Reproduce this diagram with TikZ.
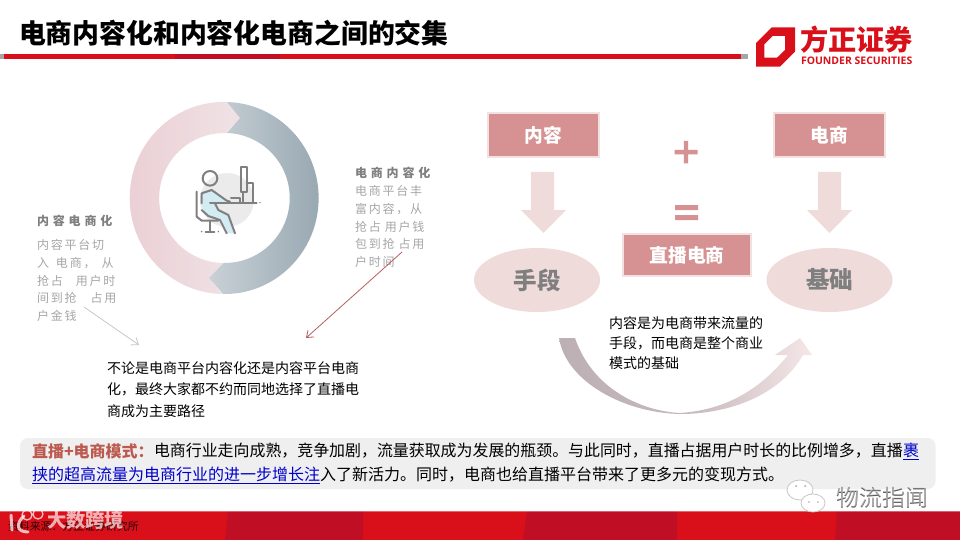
\documentclass[tikz,border=0pt]{standalone}
\usepackage{fontspec}
\usetikzlibrary{arrows.meta,shapes.geometric}
\setmainfont{Noto Sans CJK SC}
\newfontfamily\lblfont[LetterSpace=15]{Noto Sans CJK SC}
\newfontfamily\headfont[LetterSpace=32]{Noto Sans CJK SC}
\newfontfamily\latinbold{Open Sans}
\definecolor{brandred}{HTML}{D9101A}
\definecolor{branddark}{HTML}{C00F24}
\definecolor{rosebox}{HTML}{D69292}
\definecolor{roseedge}{HTML}{F3E0E0}
\definecolor{roselight}{HTML}{F0DBDB}
\definecolor{headgrey}{HTML}{7F7F7F}
\definecolor{bodygrey}{HTML}{A6A6A6}
\definecolor{panelgrey}{HTML}{EFEFEF}
\definecolor{modered}{HTML}{BC5A50}
\definecolor{linkblue}{HTML}{0000CC}
\definecolor{iconline}{HTML}{808080}
\definecolor{iconblue}{HTML}{D3EBF3}
\definecolor{ringpinkL}{HTML}{EBD0D5}
\definecolor{ringpinkM}{HTML}{EDD9DD}
\definecolor{ringpinkR}{HTML}{F0E2E5}
\definecolor{ringgreyL}{HTML}{C9D1D6}
\definecolor{ringgreyR}{HTML}{98A8B2}
\definecolor{curveL}{HTML}{BDB0B4}
\definecolor{curveM}{HTML}{C6B8BB}
\definecolor{curveR}{HTML}{F5E6E7}
\definecolor{pointred}{HTML}{B85C60}
\tikzset{
  txt/.style={anchor=west,inner sep=0pt,outer sep=0pt},
  rosebx/.style={fill=rosebox,draw=roseedge,line width=1.2pt,inner sep=0pt,text=white,font=\fontsize{18.7}{20}\selectfont\bfseries},
  roseell/.style={ellipse,fill=roselight,inner sep=0pt,text=headgrey,font=\fontsize{23.5}{25}\selectfont\bfseries,minimum width=126pt,minimum height=64pt},
  downarrow/.style={fill=roselight},
  lbltxt/.style={txt,text=bodygrey,font=\fontsize{12}{14}\lblfont},
  headtxt/.style={txt,text=headgrey,font=\fontsize{12}{14}\headfont\bfseries},
  blacktxt/.style={txt,text=black,font=\fontsize{14}{16}\selectfont},
  icon/.style={draw=iconline,line width=2pt,line cap=round,line join=round},
  pointer/.style={-{Straight Barb[length=6pt,width=9pt]},line width=.8pt},
}
\begin{document}
\begin{tikzpicture}[x=1pt,y=-1pt]
\useasboundingbox (0,0) rectangle (960,540);
\fill[white] (0,0) rectangle (960,540);
% title
\node[txt,font=\fontsize{26.85}{28}\selectfont\bfseries] (title) at (19,33.5) {电商内容化和内容化电商之间的交集};
% top rule
\fill[brandred] (0,54.5) rectangle (748,59.5);
\fill[branddark] (175,54.5) rectangle (280,59.5);
\fill[bodygrey] (0,54.5) rectangle (4,59.5);
\fill[bodygrey] (741,54.5) rectangle (748,59.5);
% logo
\fill[brandred,even odd rule] (771.7,27.3) -- (795,27.3) -- (795,51.7) -- (780,66.7) -- (756,66.7) -- (756,43) -- cycle
  (772.7,36) -- (785,36) -- (785,50) -- (777,57.7) -- (764.3,57.7) -- (764.3,44.3) -- cycle;
\node[txt,text=brandred,font=\fontsize{28.2}{29}\selectfont\bfseries] (logocn) at (800,40) {方正证券};
\node[txt,text=brandred,font=\fontsize{10.45}{11}\latinbold\bfseries] (logoen) at (801,61) {FOUNDER SECURITIES};
% ring
\path[left color=ringpinkL,right color=ringpinkR,middle color=ringpinkM]
  (227,102) arc[start angle=272,end angle=91,x radius=94,y radius=96] -- (209,278) -- (223,263)
  arc[start angle=91,end angle=272,radius=65] -- (240,118) -- cycle;
\path[left color=ringgreyL,right color=ringgreyR]
  (227,102) -- (240,118) -- (227,133) arc[start angle=-88,end angle=91,radius=65] -- (209,278) -- (223,294)
  arc[start angle=91,end angle=-88,x radius=94,y radius=96] -- cycle;
% person icon
\begin{scope}[shift={(185,160)},scale=0.3333]
\fill[black!8] (126,120) circle[radius=81];
\fill[iconblue] (50,95) -- (80,90) -- (125,125) -- (90,130) -- (100,150) -- (130,165) -- (150,220) -- (125,220) -- (105,180) -- (60,165) -- (50,130) -- cycle;
\draw[icon] (75,55) circle[radius=22];
\draw[icon] (50,130) -- (50,100) -- (80,90) -- (125,122) -- (135,125);
\draw[icon] (90,130) -- (100,150) -- (130,165) -- (150,220);
\draw[icon] (125,220) -- (105,180) -- (70,168) -- (50,150);
\draw[icon] (35,95) -- (35,170) -- (50,182) -- (100,182);
\draw[icon] (75,128) -- (215,128);
\fill[iconline] (225,128) circle[radius=2.5];
\draw[icon] (168,20) rectangle (185,95);
\draw[icon] (185,70) -- (205,70) -- (205,128);
\draw[icon] (138,115) -- (165,115) -- (165,128);
\draw[icon] (175,95) -- (175,128);
\draw[icon] (75,182) -- (75,215);
\fill[iconline] (50,215) circle[radius=2.5] (100,215) circle[radius=2.5];
\draw[icon] (62,215) -- (88,215);
\end{scope}
% left label
\node[headtxt] (lh) at (37,221) {内容电商化};
\node[lbltxt] (l1) at (37,245) {内容平台切};
\node[lbltxt] (l2) at (37,263) {入\hspace*{7pt}电商，\hspace*{6pt}从};
\node[lbltxt] (l3) at (37,281) {抢占\hspace*{13pt}用户时};
\node[lbltxt] (l4) at (37,298) {间到抢\hspace*{14pt}占用};
\node[lbltxt] (l5) at (37,316) {户金钱};
% right label
\node[headtxt] (rh) at (355,173) {电商内容化};
\node[lbltxt] (r1) at (355,191) {电商平台丰};
\node[lbltxt] (r2) at (355,209) {富内容，从};
\node[lbltxt] (r3) at (355,227) {抢占\hspace*{4pt}用户钱};
\node[lbltxt] (r4) at (355,244) {包到抢\hspace*{4pt}占用};
\node[lbltxt] (r5) at (355,262) {户时间};
% pointers
\coordinate (ga) at (84,307); \coordinate (gb) at (139,345);
\coordinate (ra) at (402,252); \coordinate (rb) at (306,338);
\draw[pointer,draw=black!22] (ga) -- (gb);
\draw[pointer,draw=pointred] (ra) -- (rb);
% middle note
\node[blacktxt] (m1) at (107,368) {不论是电商平台内容化还是内容平台电商};
\node[blacktxt] (m2) at (107,389) {化，最终大家都不约而同地选择了直播电};
\node[blacktxt] (m3) at (107,411) {商成为主要路径};
% right boxes
\node[rosebx,minimum width=111pt,minimum height=44pt] (content) at (543.5,135) {内容};
\node[rosebx,minimum width=111pt,minimum height=44pt] (ecom) at (829.5,135) {电商};
\node[rosebx,minimum width=128pt,minimum height=42pt] (live) at (687,255) {直播电商};
% plus / equals
\fill[rosebox] (674.5,150) rectangle (697.5,154.5) (683.8,141) rectangle (688.2,163.5);
\fill[rosebox] (675,205) rectangle (698,210) (675,215) rectangle (698,220);
% down arrows
\fill[downarrow] (531,172) -- (554,172) -- (554,210) -- (566,210) -- (543.5,233) -- (521,210) -- (531,210) -- cycle;
\fill[downarrow] (818,172) -- (841,172) -- (841,210) -- (852,210) -- (829.5,233) -- (807,210) -- (818,210) -- cycle;
% ellipses
\node[roseell] (means) at (537,280) {手段};
\node[roseell] (base) at (829.5,280) {基础};
% curved arrow
\path[left color=curveL,right color=curveR,middle color=curveM]
  (559,338) .. controls (566,382) and (625,413) .. (680,414)
  .. controls (730,414) and (780,395) .. (803,355) -- (812,355) -- (800,338) -- (775,355) -- (788,355)
  .. controls (760,390) and (725,410) .. (680,413) .. controls (640,411) and (592,388) .. (575,338) -- cycle;
\node[blacktxt] (n1) at (609,323) {内容是为电商带来流量的};
\node[blacktxt] (n2) at (609,343) {手段，而电商是整个商业};
\node[blacktxt] (n3) at (609,363) {模式的基础};
% panel
\fill[panelgrey,rounded corners=8pt] (20,438) rectangle (935.5,489);
\node[txt,text=modered,font=\fontsize{16}{18}\selectfont\bfseries] (mode) at (32,451) {直播+电商模式：};
\node[txt,text=black,font=\fontsize{15.93}{18}\selectfont] (p1) at (154,451) {电商行业走向成熟，竞争加剧，流量获取成为发展的瓶颈。与此同时，直播占据用户时长的比例增多，直播};
\node[txt,text=linkblue,font=\fontsize{16}{18}\selectfont] (p1b) at (903,451) {\underline{裹}};
\node[txt,text=linkblue,font=\fontsize{16}{18}\selectfont] (p2a) at (32,475) {\underline{挟的超高流量为电商行业的进一步增长注}};
\node[txt,text=black,font=\fontsize{16}{18}\selectfont] (p2b) at (320,475) {入了新活力。同时，电商也给直播平台带来了更多元的变现方式。};
% bottom bar
\fill[brandred] (0,511) rectangle (960,540);
\fill[branddark] (228,511) -- (363,511) -- (363,540) -- (225,540) -- cycle;
\fill[branddark] (527,511) -- (677,511) -- (677,540) -- (523,540) -- cycle;
\fill[branddark] (837,511) -- (960,511) -- (960,540) -- (835,540) -- cycle;
\fill[white,opacity=.35] (0,511) rectangle (960,511.8);
\node[txt,text=black!80!brandred,font=\fontsize{10.9}{12}\selectfont] (src) at (8,526) {资料来源：方正证券研究所};
% watermark left
\begin{scope}[white,opacity=.72,line width=3pt,line cap=round]
\draw (11,515) -- (12,530) (24,516) .. controls (16,523) and (16,532) .. (28,532);
\draw[line width=1.3pt] (27,515) circle[radius=5] (38,514) circle[radius=5];
\end{scope}
\node[txt,text=white,opacity=.68,font=\fontsize{19.3}{21}\selectfont\bfseries] (wm) at (47,520) {大数跨境};
% watermark right
\fill[white] (800,490) ellipse[x radius=13,y radius=10] (790,503) -- (792,495) -- (797,498) -- cycle;
\draw[black!22,line width=.8pt] (800,490) ellipse[x radius=13,y radius=10];
\draw[black!22,fill=white,line width=.8pt] (813,503) ellipse[x radius=12,y radius=9];
\fill[black!35] (796,486) circle[radius=1] (805,486) circle[radius=1] (809,502) circle[radius=.9] (818,502) circle[radius=.9];
\node[txt,text=black!65,font=\fontsize{23}{25}\selectfont] (wx2) at (836.6,497.6) {物流指闻};
\node[txt,text=white,opacity=.45,font=\fontsize{23}{25}\selectfont] (wx) at (836,497) {物流指闻};
\end{tikzpicture}
\end{document}
